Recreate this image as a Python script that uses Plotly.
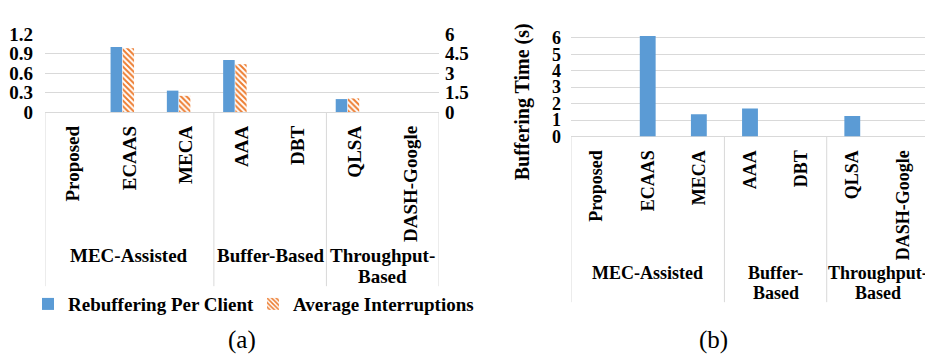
import plotly.graph_objects as go

# The page body adds an 8px margin, so the figure is 8px smaller and all
# reference pixel positions are shifted by 8px.
OFF = 8
W, H = 933 - OFF, 364 - OFF

categories = ["Proposed", "ECAAS", "MECA", "AAA", "DBT", "QLSA", "DASH-Google"]
group_members = [[0, 1, 2], [3, 4], [5, 6]]
groups_a_lines = [["MEC-Assisted"], ["Buffer-Based"], ["Throughput-", "Based"]]
groups_b_lines = [["MEC-Assisted"], ["Buffer-", "Based"], ["Throughput-", "Based"]]

rebuffering_per_client = [0, 1.0, 0.33, 0.80, 0, 0.20, 0]
average_interruptions = [0, 4.9, 1.25, 3.68, 0, 1.05, 0]
buffering_time = [0, 6.1, 1.35, 1.70, 0, 1.25, 0]

left_ticks = [0, 0.3, 0.6, 0.9, 1.2]
left_ticktext = ["0", "0.3", "0.6", "0.9", "1.2"]
right_ticks = [0, 1.5, 3, 4.5, 6]
right_ticktext = ["0", "1.5", "3", "4.5", "6"]
b_ticks = [0, 1, 2, 3, 4, 5, 6]

BLUE = "#5B9BD5"
ORANGE = "#ED7D31"
GRID = "#D9D9D9"
FONT = "Liberation Serif"


def fx(v):
    return (v - OFF) / W


def fy(v):
    return 1 - (v - OFF) / H


fig = go.Figure()

fig.add_trace(go.Bar(
    x=categories, y=rebuffering_per_client, name="Rebuffering Per Client",
    xaxis="x", yaxis="y", width=0.205, offset=-0.335,
    marker=dict(color=BLUE, line=dict(width=0)),
))
fig.add_trace(go.Bar(
    x=categories, y=average_interruptions, name="Average Interruptions",
    xaxis="x", yaxis="y2", width=0.2, offset=-0.118,
    marker=dict(color="white", line=dict(width=0),
                pattern=dict(shape="\\", fgcolor=ORANGE, bgcolor="white",
                             size=4, solidity=0.5, fillmode="replace")),
))
fig.add_trace(go.Bar(
    x=categories, y=buffering_time, name="Buffering Time",
    xaxis="x2", yaxis="y3", width=0.31, showlegend=False,
    marker=dict(color=BLUE, line=dict(width=0)),
))

font_a = dict(family=FONT, size=19, color="black", weight="bold")
font_b = dict(family=FONT, size=18, color="black", weight="bold")

a_x0, a_x1, a_top, a_bot = 45, 439, 25, 108
b_x0, b_x1, b_top, b_bot = 571, 929, 27.25, 134

fig.update_layout(
    width=W, height=H,
    margin=dict(l=0, r=0, t=0, b=0),
    paper_bgcolor="white", plot_bgcolor="white",
    barmode="overlay",
    showlegend=True,
    legend=dict(orientation="h", x=fx(28), xanchor="left",
                y=fy(312), yanchor="middle",
                font=font_a, bgcolor="rgba(0,0,0,0)", traceorder="normal",
                entrywidth=180, entrywidthmode="pixels"),
    xaxis=dict(domain=[fx(a_x0), fx(a_x1)], anchor="y", type="category",
               categoryorder="array", categoryarray=categories,
               range=[-0.5, 6.5], tickangle=-90, tickfont=font_a,
               showgrid=False, showline=False, zeroline=False, ticks="",
               ticklabelstandoff=9),
    yaxis=dict(domain=[fy(a_bot), fy(a_top)], anchor="x", range=[0, 1.2],
               tickvals=left_ticks, ticktext=left_ticktext,
               tickfont=font_a, gridcolor=GRID, gridwidth=1,
               zeroline=True, zerolinecolor=GRID, zerolinewidth=1,
               showline=False, ticks="", ticklabelstandoff=11),
    yaxis2=dict(overlaying="y", side="right", anchor="x", range=[0, 6],
                tickvals=right_ticks, ticktext=right_ticktext,
                tickfont=font_a, showgrid=False, zeroline=False,
                showline=False, ticks="", ticklabelstandoff=5),
    xaxis2=dict(domain=[fx(b_x0), fx(b_x1)], anchor="y3", type="category",
                categoryorder="array", categoryarray=categories,
                range=[-0.5, 6.5], tickangle=-90, tickfont=font_b,
                showgrid=False, showline=False, zeroline=False, ticks="",
                ticklabelstandoff=9),
    yaxis3=dict(domain=[fy(b_bot), fy(b_top)], anchor="x2", range=[0, 6.1],
                tickvals=b_ticks, tickfont=font_b, gridcolor=GRID, gridwidth=1,
                zeroline=True, zerolinecolor=GRID, zerolinewidth=1,
                showline=False, ticks="", ticklabelstandoff=9),
)

shapes = []
for xv in [-0.5, 2.5, 4.5, 6.5]:
    shapes.append(dict(type="line", xref="x", yref="paper", x0=xv, x1=xv,
                       y0=fy(a_bot), y1=fy(293), line=dict(color=GRID, width=1)))
    shapes.append(dict(type="line", xref="x2", yref="paper", x0=xv, x1=xv,
                       y0=fy(b_bot), y1=fy(310), line=dict(color=GRID, width=1)))
fig.update_layout(shapes=shapes)

ann = []
for lines, mem in zip(groups_a_lines, group_members):
    cx = (mem[0] + mem[-1]) / 2
    for i, line in enumerate(lines):
        ann.append(dict(text=line, xref="x", yref="paper", x=cx,
                        y=fy(260.7 + 21.5 * i), xanchor="center", yanchor="middle",
                        showarrow=False, font=font_a))
for lines, mem in zip(groups_b_lines, group_members):
    cx = (mem[0] + mem[-1]) / 2
    for i, line in enumerate(lines):
        ann.append(dict(text=line, xref="x2", yref="paper", x=cx,
                        y=fy(279 + 21.7 * i), xanchor="center", yanchor="middle",
                        showarrow=False, font=font_b))

ann.append(dict(text="Buffering Time (s)", xref="paper", yref="paper",
                x=fx(522), y=fy(97.6), xanchor="center", yanchor="middle",
                textangle=-90, showarrow=False,
                font=dict(family=FONT, size=20, color="black", weight="bold")))
ann.append(dict(text="(a)", xref="paper", yref="paper", x=fx(242), y=fy(350),
                xanchor="center", yanchor="middle",
                showarrow=False, font=dict(family=FONT, size=25, color="black")))
ann.append(dict(text="(b)", xref="paper", yref="paper", x=fx(713), y=fy(350),
                xanchor="center", yanchor="middle",
                showarrow=False, font=dict(family=FONT, size=25, color="black")))
fig.update_layout(annotations=ann)

fig.write_html("out.html")
